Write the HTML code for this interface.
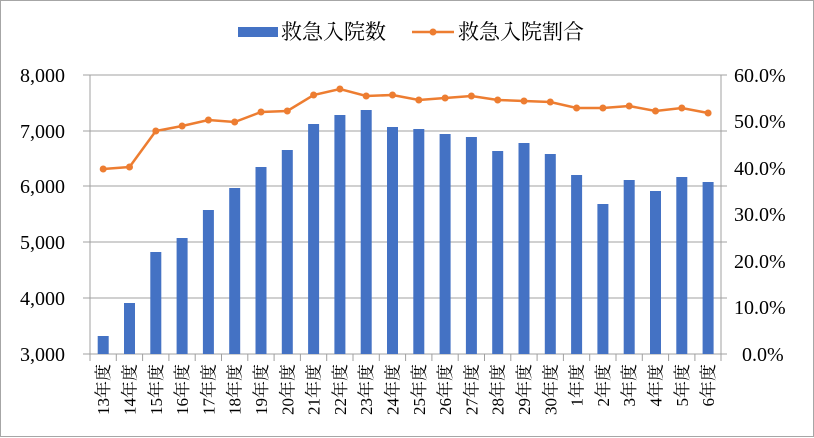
<!DOCTYPE html>
<html><head><meta charset="utf-8"><style>
html,body{margin:0;padding:0;background:#fff}
svg{display:block;font-family:"Liberation Serif","Noto Serif CJK JP",serif}
</style></head><body>
<svg width="814" height="438" viewBox="0 0 814 438">
<rect x="0.5" y="0.5" width="813" height="436" fill="#fff" stroke="#a6a6a6"/>
<g stroke="#a0a0a0" stroke-width="1">
<line x1="83" y1="75" x2="727" y2="75"/>
<line x1="83" y1="131" x2="727" y2="131"/>
<line x1="83" y1="186" x2="727" y2="186"/>
<line x1="83" y1="242" x2="727" y2="242"/>
<line x1="83" y1="298" x2="727" y2="298"/>
<line x1="83" y1="354" x2="727" y2="354"/>
<line x1="90" y1="75" x2="90" y2="361"/>
<line x1="721" y1="75" x2="721" y2="361"/>
<path d="M116.3 354v7M142.6 354v7M168.9 354v7M195.2 354v7M221.5 354v7M247.8 354v7M274.1 354v7M300.4 354v7M326.7 354v7M353 354v7M379.3 354v7M405.6 354v7M431.9 354v7M458.2 354v7M484.5 354v7M510.8 354v7M537.1 354v7M563.4 354v7M589.7 354v7M616 354v7M642.3 354v7M668.6 354v7M694.9 354v7"/>
</g>
<g fill="#4472c4">
<rect x="97.7" y="336" width="11" height="18"/>
<rect x="124" y="303" width="11" height="51"/>
<rect x="150.3" y="252" width="11" height="102"/>
<rect x="176.6" y="238" width="11" height="116"/>
<rect x="202.9" y="210" width="11" height="144"/>
<rect x="229.2" y="188" width="11" height="166"/>
<rect x="255.5" y="167" width="11" height="187"/>
<rect x="281.8" y="150" width="11" height="204"/>
<rect x="308.1" y="124" width="11" height="230"/>
<rect x="334.4" y="115" width="11" height="239"/>
<rect x="360.7" y="110" width="11" height="244"/>
<rect x="387" y="127" width="11" height="227"/>
<rect x="413.3" y="129" width="11" height="225"/>
<rect x="439.6" y="134" width="11" height="220"/>
<rect x="465.9" y="137" width="11" height="217"/>
<rect x="492.2" y="151" width="11" height="203"/>
<rect x="518.5" y="143" width="11" height="211"/>
<rect x="544.8" y="154" width="11" height="200"/>
<rect x="571.1" y="175" width="11" height="179"/>
<rect x="597.4" y="204" width="11" height="150"/>
<rect x="623.7" y="180" width="11" height="174"/>
<rect x="650" y="191" width="11" height="163"/>
<rect x="676.3" y="177" width="11" height="177"/>
<rect x="702.6" y="182" width="11" height="172"/>
</g>
<polyline fill="none" stroke="#ed7d31" stroke-width="2.5" points="103.2,169 129.5,167 155.8,131 182.1,126 208.4,120 234.7,122 261,112 287.3,111 313.6,95 339.9,89 366.2,96 392.5,95 418.8,100 445.1,98 471.4,96 497.7,100 524,101 550.3,102 576.6,108 602.9,108 629.2,106 655.5,111 681.8,108 708.1,113"/>
<g fill="#ed7d31">
<circle cx="103.2" cy="169" r="3.5"/><circle cx="129.5" cy="167" r="3.5"/><circle cx="155.8" cy="131" r="3.5"/><circle cx="182.1" cy="126" r="3.5"/><circle cx="208.4" cy="120" r="3.5"/><circle cx="234.7" cy="122" r="3.5"/><circle cx="261" cy="112" r="3.5"/><circle cx="287.3" cy="111" r="3.5"/><circle cx="313.6" cy="95" r="3.5"/><circle cx="339.9" cy="89" r="3.5"/><circle cx="366.2" cy="96" r="3.5"/><circle cx="392.5" cy="95" r="3.5"/><circle cx="418.8" cy="100" r="3.5"/><circle cx="445.1" cy="98" r="3.5"/><circle cx="471.4" cy="96" r="3.5"/><circle cx="497.7" cy="100" r="3.5"/><circle cx="524" cy="101" r="3.5"/><circle cx="550.3" cy="102" r="3.5"/><circle cx="576.6" cy="108" r="3.5"/><circle cx="602.9" cy="108" r="3.5"/><circle cx="629.2" cy="106" r="3.5"/><circle cx="655.5" cy="111" r="3.5"/><circle cx="681.8" cy="108" r="3.5"/><circle cx="708.1" cy="113" r="3.5"/>
</g>
<g font-size="20" fill="#000" text-anchor="end">
<text x="65" y="82">8,000</text>
<text x="65" y="138">7,000</text>
<text x="65" y="193">6,000</text>
<text x="65" y="249">5,000</text>
<text x="65" y="305">4,000</text>
<text x="65" y="361">3,000</text>
</g>
<g font-size="20" fill="#000">
<text x="734" y="82">60.0%</text>
<text x="734" y="128">50.0%</text>
<text x="734" y="175">40.0%</text>
<text x="734" y="221">30.0%</text>
<text x="734" y="268">20.0%</text>
<text x="734" y="314">10.0%</text>
<text x="742" y="361">0.0%</text>
</g>
<g font-size="17" fill="#000" text-anchor="end">
<text transform="translate(109.2,364) rotate(-90)">13年度</text>
<text transform="translate(135.5,364) rotate(-90)">14年度</text>
<text transform="translate(161.8,364) rotate(-90)">15年度</text>
<text transform="translate(188.1,364) rotate(-90)">16年度</text>
<text transform="translate(214.4,364) rotate(-90)">17年度</text>
<text transform="translate(240.7,364) rotate(-90)">18年度</text>
<text transform="translate(267,364) rotate(-90)">19年度</text>
<text transform="translate(293.3,364) rotate(-90)">20年度</text>
<text transform="translate(319.6,364) rotate(-90)">21年度</text>
<text transform="translate(345.9,364) rotate(-90)">22年度</text>
<text transform="translate(372.2,364) rotate(-90)">23年度</text>
<text transform="translate(398.5,364) rotate(-90)">24年度</text>
<text transform="translate(424.8,364) rotate(-90)">25年度</text>
<text transform="translate(451.1,364) rotate(-90)">26年度</text>
<text transform="translate(477.4,364) rotate(-90)">27年度</text>
<text transform="translate(503.7,364) rotate(-90)">28年度</text>
<text transform="translate(530,364) rotate(-90)">29年度</text>
<text transform="translate(556.3,364) rotate(-90)">30年度</text>
<text transform="translate(582.6,364) rotate(-90)">1年度</text>
<text transform="translate(608.9,364) rotate(-90)">2年度</text>
<text transform="translate(635.2,364) rotate(-90)">3年度</text>
<text transform="translate(661.5,364) rotate(-90)">4年度</text>
<text transform="translate(687.8,364) rotate(-90)">5年度</text>
<text transform="translate(714.1,364) rotate(-90)">6年度</text>
</g>
<rect x="238" y="27" width="40" height="10" fill="#4472c4"/>
<text x="281" y="39" font-size="21" fill="#000">救急入院数</text>
<line x1="412" y1="32" x2="454" y2="32" stroke="#ed7d31" stroke-width="2.5"/>
<circle cx="433" cy="32" r="3.5" fill="#ed7d31"/>
<text x="458" y="39" font-size="21" fill="#000">救急入院割合</text>
</svg>
</body></html>
